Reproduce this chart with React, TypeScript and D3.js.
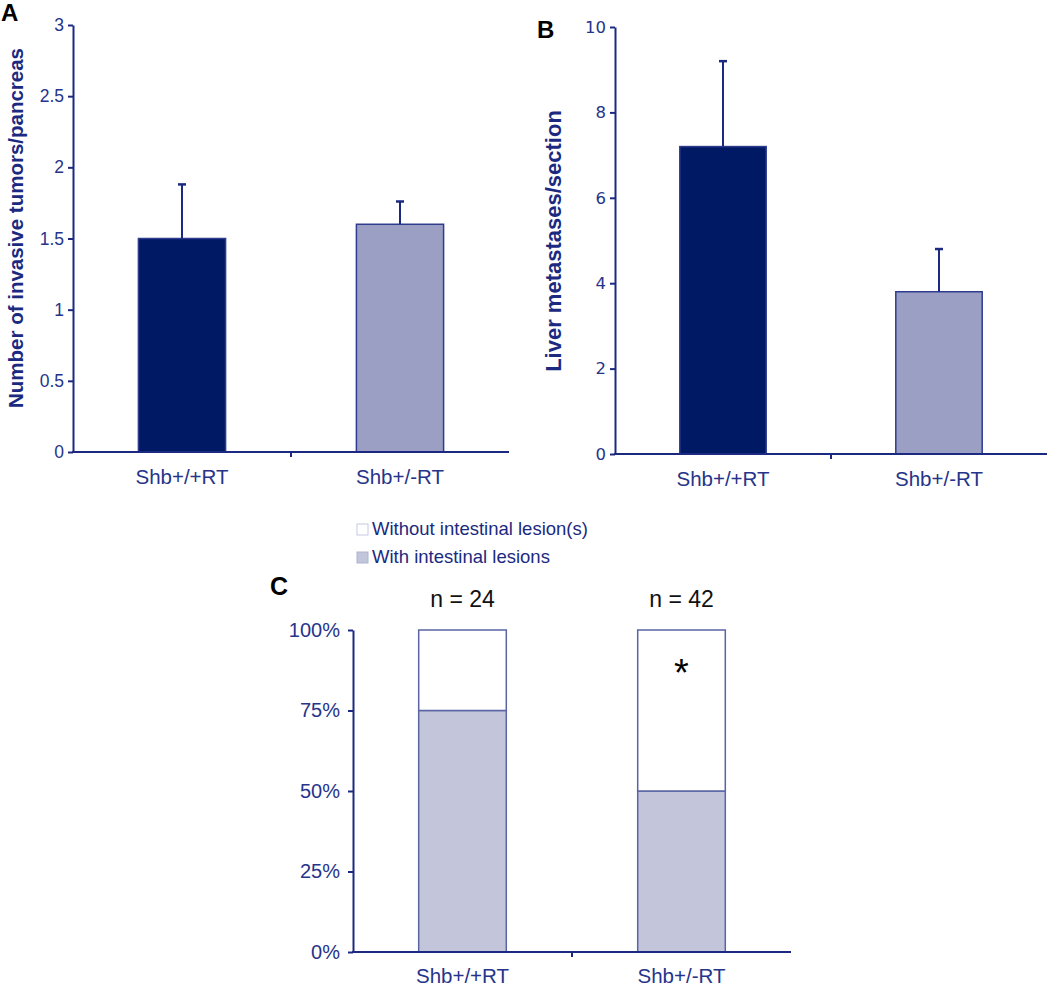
import React, { useEffect, useRef } from "react";
import * as d3 from "d3";

// Panel A: invasive tumors per pancreas
const groups = ["Shb+/+RT", "Shb+/-RT"];
const tumorMeans = [1.5, 1.6];
const tumorErrors = [1.88, 1.76]; // top of error bar
const tumorTicks = [0, 0.5, 1, 1.5, 2, 2.5, 3];

// Panel B: liver metastases per section
const metMeans = [7.2, 3.8];
const metErrors = [9.2, 4.8];
const metTicks = [0, 2, 4, 6, 8, 10];

// Panel C: intestinal lesions (fractions)
const withLesions = [0.75, 0.5];
const withoutLesions = [0.25, 0.5];
const groupN = ["n = 24", "n = 42"];
const pctTicks = [0, 0.25, 0.5, 0.75, 1];
const legendLabels = ["Without intestinal lesion(s)", "With intestinal lesions"];

const NAVY = "#1b2a80";
const TEXT = "#26348a";
const DARK_BAR = "#001964";
const LIGHT_BAR = "#9c9fc4";
const C_FILL = "#c3c5db";
const C_STROKE = "#5a64a5";
const SANS = "Arial, 'Liberation Sans', Helvetica, sans-serif";

const App = () => {
  const svgRef = useRef<SVGSVGElement>(null);

  useEffect(() => {
    const svg = d3.select(svgRef.current);
    svg.selectAll("*").remove();

    const barPanel = (opts: any) => {
      const { x0, x1, yTop, yBottom, max, ticks, means, errs, tickFont, label, labelX, labelY, letter, letterX, letterY } = opts;
      const g = svg.append("g");
      const x = d3.scaleBand().domain(groups).range([x0, x1]).paddingInner(0.6).paddingOuter(0.3);
      const y = d3.scaleLinear().domain([0, max]).range([yBottom, yTop]);
      const colors = [DARK_BAR, LIGHT_BAR];

      // bars
      g.selectAll("rect.bar")
        .data(groups)
        .enter()
        .append("rect")
        .attr("x", (d) => x(d)!)
        .attr("y", (d, i) => y(means[i]))
        .attr("width", x.bandwidth())
        .attr("height", (d, i) => yBottom - y(means[i]))
        .attr("fill", (d, i) => colors[i])
        .attr("stroke", "#2f3c8e")
        .attr("stroke-width", 1.5);

      // error bars
      groups.forEach((d, i) => {
        const cx = x(d)! + x.bandwidth() / 2;
        g.append("line")
          .attr("x1", cx).attr("x2", cx)
          .attr("y1", y(means[i])).attr("y2", y(errs[i]))
          .attr("stroke", NAVY).attr("stroke-width", 2);
        g.append("line")
          .attr("x1", cx - 4).attr("x2", cx + 4)
          .attr("y1", y(errs[i])).attr("y2", y(errs[i]))
          .attr("stroke", NAVY).attr("stroke-width", 2.5);
      });

      // y axis
      const ya = g.append("g")
        .attr("transform", `translate(${x0},0)`)
        .call(d3.axisLeft(y).tickValues(ticks).tickSize(5).tickSizeOuter(0).tickPadding(4).tickFormat((d: any) => String(d)));
      ya.select(".domain").attr("stroke", NAVY).attr("stroke-width", 2);
      ya.selectAll(".tick line").attr("stroke", NAVY).attr("stroke-width", 2);
      ya.selectAll(".tick text").attr("fill", TEXT).style("font-family", tickFont.family).style("font-size", tickFont.size + "px");

      // x axis
      g.append("line").attr("x1", x0 - 1).attr("x2", x1).attr("y1", yBottom).attr("y2", yBottom)
        .attr("stroke", NAVY).attr("stroke-width", 2);
      const mid = (x0 + x1) / 2;
      g.append("line").attr("x1", mid).attr("x2", mid).attr("y1", yBottom).attr("y2", yBottom + 5)
        .attr("stroke", NAVY).attr("stroke-width", 2);
      g.selectAll("text.xl")
        .data(groups)
        .enter()
        .append("text")
        .attr("x", (d) => x(d)! + x.bandwidth() / 2)
        .attr("y", yBottom + 32)
        .attr("text-anchor", "middle")
        .attr("fill", TEXT)
        .style("font-family", SANS)
        .style("font-size", "20.5px")
        .text((d) => d);

      // y label
      g.append("text")
        .attr("transform", `translate(${labelX},${labelY}) rotate(-90)`)
        .attr("text-anchor", "middle")
        .attr("fill", NAVY)
        .style("font-family", SANS)
        .style("font-weight", "bold")
        .style("font-size", label.size + "px")
        .text(label.text);

      g.append("text")
        .attr("x", letterX).attr("y", letterY)
        .attr("fill", "#000")
        .style("font-family", SANS)
        .style("font-weight", "bold")
        .style("font-size", "24px")
        .text(letter);
    };

    barPanel({
      x0: 73, x1: 509, yTop: 25, yBottom: 452, max: 3, ticks: tumorTicks,
      means: tumorMeans, errs: tumorErrors,
      tickFont: { family: SANS, size: 17.5 },
      label: { text: "Number of invasive tumors/pancreas", size: 20.5 },
      labelX: 23, labelY: 228, letter: "A", letterX: 1, letterY: 21,
    });

    barPanel({
      x0: 615, x1: 1047, yTop: 27, yBottom: 454, max: 10, ticks: metTicks,
      means: metMeans, errs: metErrors,
      tickFont: { family: "'DejaVu Sans', Verdana, sans-serif", size: 16.5 },
      label: { text: "Liver metastases/section", size: 22 },
      labelX: 561, labelY: 241, letter: "B", letterX: 537, letterY: 38,
    });

    // Panel C: stacked percentage bars
    const c = svg.append("g");
    const cx0 = 353, cx1 = 791, cTop = 630, cBottom = 952;
    const xc = d3.scaleBand().domain(groups).range([cx0, cx1]).paddingInner(0.6).paddingOuter(0.3);
    const yc = d3.scaleLinear().domain([0, 1]).range([cBottom, cTop]);

    groups.forEach((d, i) => {
      c.append("rect")
        .attr("x", xc(d)!).attr("width", xc.bandwidth())
        .attr("y", yc(withLesions[i])).attr("height", cBottom - yc(withLesions[i]))
        .attr("fill", C_FILL).attr("stroke", C_STROKE).attr("stroke-width", 1.5);
      c.append("rect")
        .attr("x", xc(d)!).attr("width", xc.bandwidth())
        .attr("y", yc(withLesions[i] + withoutLesions[i])).attr("height", yc(withLesions[i]) - yc(withLesions[i] + withoutLesions[i]))
        .attr("fill", "#fff").attr("stroke", C_STROKE).attr("stroke-width", 1.5);
      c.append("text")
        .attr("x", xc(d)! + xc.bandwidth() / 2)
        .attr("y", cTop - 23)
        .attr("text-anchor", "middle")
        .attr("fill", "#111")
        .style("font-family", SANS)
        .style("font-size", "23px")
        .text(groupN[i]);
    });

    const yca = c.append("g")
      .attr("transform", `translate(${cx0},0)`)
      .call(d3.axisLeft(yc).tickValues(pctTicks).tickSize(5).tickSizeOuter(0).tickPadding(8).tickFormat(d3.format(".0%") as any));
    yca.select(".domain").attr("stroke", NAVY).attr("stroke-width", 2);
    yca.selectAll(".tick line").attr("stroke", NAVY).attr("stroke-width", 2);
    yca.selectAll(".tick text").attr("fill", TEXT).style("font-family", SANS).style("font-size", "20px");

    c.append("line").attr("x1", cx0 - 1).attr("x2", cx1).attr("y1", cBottom).attr("y2", cBottom)
      .attr("stroke", NAVY).attr("stroke-width", 2);
    const cmid = (cx0 + cx1) / 2;
    c.append("line").attr("x1", cmid).attr("x2", cmid).attr("y1", cBottom).attr("y2", cBottom + 5)
      .attr("stroke", NAVY).attr("stroke-width", 2);
    c.selectAll("text.xl")
      .data(groups)
      .enter()
      .append("text")
      .attr("x", (d) => xc(d)! + xc.bandwidth() / 2)
      .attr("y", cBottom + 31)
      .attr("text-anchor", "middle")
      .attr("fill", TEXT)
      .style("font-family", SANS)
      .style("font-size", "20.5px")
      .text((d) => d);

    // significance star
    c.append("text")
      .attr("x", xc(groups[1])! + xc.bandwidth() / 2)
      .attr("y", 686)
      .attr("text-anchor", "middle")
      .attr("fill", "#000")
      .style("font-family", SANS)
      .style("font-size", "38px")
      .text("*");

    c.append("text")
      .attr("x", 270).attr("y", 595)
      .attr("fill", "#000")
      .style("font-family", SANS)
      .style("font-weight", "bold")
      .style("font-size", "25px")
      .text("C");

    // legend
    const legendFill = ["#fff", C_FILL];
    const legendStroke = ["#c6c9df", "#b0b3cf"];
    legendLabels.forEach((t, i) => {
      const ly = 524 + i * 28;
      c.append("rect").attr("x", 357).attr("y", ly).attr("width", 11).attr("height", 11)
        .attr("fill", legendFill[i]).attr("stroke", legendStroke[i]).attr("stroke-width", 1);
      c.append("text")
        .attr("x", 372).attr("y", ly + 11)
        .attr("fill", NAVY)
        .style("font-family", SANS)
        .style("font-size", "18.5px")
        .text(t);
    });
  }, []);

  return (
    <svg
      ref={svgRef}
      width={1050}
      height={987}
      style={{ position: "absolute", left: 0, top: 0, background: "#fff" }}
    ></svg>
  );
};

export default App;
